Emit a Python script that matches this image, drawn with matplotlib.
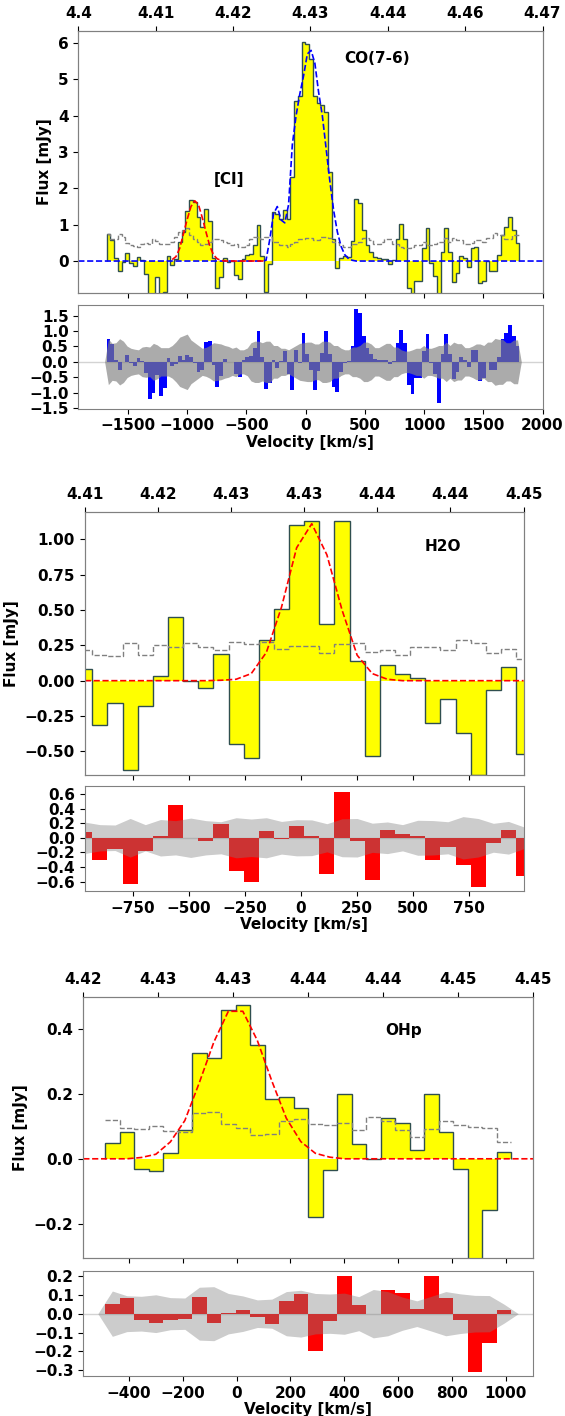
import numpy as np
import matplotlib.pyplot as plt

plt.rcParams['font.family'] = 'DejaVu Sans'
plt.rcParams['font.weight'] = 'bold'
plt.rcParams['axes.labelweight'] = 'bold'
plt.rcParams['font.size'] = 11

# ---------------- CO(7-6) + [CI] ----------------
co_v0, co_dv = -1666.0, 31.7
co_flux = [0.74, 0.59, 0.07, -0.27, -0.02, 0.23, -0.05, -0.13, 0.11, 0.03,
           -0.35, -1.2, -1.0, -0.43, -1.1, -0.85, 0.14, -0.1, 0.05, 0.53,
           0.8, 1.37, 1.67, 1.63, 1.22, 0.95, 1.43, 1.1, 0.07, -0.75,
           -0.45, 0.09, -0.02, 0.0, -0.38, -0.5, 0.05, 0.16, 0.2, 0.45,
           1.0, 0.15, -0.86, -0.09, 1.35, 1.3, 1.15, 1.4, 1.15, 2.3,
           4.4, 4.55, 6.02, 5.97, 5.55, 4.55, 4.35, 4.3, 4.1, 2.45,
           0.6, -0.18, 0.07, 0.14, 0.1, 0.55, 1.72, 1.6, 0.85, 0.45,
           0.25, 0.1, 0.07, 0.06, 0.05, -0.08, 0.03, 0.6, 1.03, 0.6,
           -0.75, -1.05, -0.54, -0.54, 0.35, 0.9, -0.05, -0.4, -1.35, 0.24,
           0.9, 0.24, -0.57, -0.34, 0.15, 0.07, -0.16, 0.37, 0.38, -0.61,
           -0.54, 0.0, -0.27, -0.27, 0.16, 0.73, 0.94, 1.2, 0.85, 0.51]
co_noise = [0.74, 0.6, 0.62, 0.75, 0.67, 0.51, 0.44, 0.41, 0.39, 0.48,
            0.5, 0.48, 0.6, 0.55, 0.46, 0.46, 0.46, 0.53, 0.65, 0.8,
            0.85, 0.9, 0.71, 0.62, 0.53, 0.44, 0.47, 0.53, 0.62, 0.6,
            0.58, 0.53, 0.5, 0.44, 0.48, 0.39, 0.39, 0.45, 0.62, 0.67,
            0.67, 0.62, 0.67, 0.67, 0.53, 0.53, 0.44, 0.44, 0.39, 0.46,
            0.53, 0.6, 0.62, 0.64, 0.64, 0.58, 0.58, 0.67, 0.67, 0.64,
            0.53, 0.53, 0.44, 0.39, 0.39, 0.48, 0.48, 0.53, 0.64, 0.64,
            0.58, 0.46, 0.46, 0.53, 0.6, 0.6, 0.48, 0.48, 0.39, 0.35,
            0.35, 0.39, 0.44, 0.44, 0.53, 0.44, 0.44, 0.48, 0.53, 0.53,
            0.64, 0.53, 0.64, 0.59, 0.59, 0.46, 0.46, 0.51, 0.58, 0.58,
            0.53, 0.64, 0.64, 0.76, 0.73, 0.73, 0.62, 0.62, 0.71, 0.71]
co_fit_start = 42
co_fit = [0.02, 0.6, 1.3, 1.5, 1.13, 1.05, 1.55, 3.2, 4.0, 4.6, 5.1, 5.7,
          5.8, 5.45, 4.65, 4.0, 3.1, 2.2, 1.4, 0.8, 0.4, 0.17, 0.06, 0.02]
ci_fit_start = 17
ci_fit = [0.04, 0.12, 0.35, 0.75, 1.15, 1.5, 1.66, 1.55, 1.2, 0.8, 0.42,
          0.17, 0.06, 0.02, 0, 0, 0, 0, 0, 0, 0, 0, 0, 0, 0, 0]
co_xlim = (-1920, 2000)
co_top = ['4.4', '4.41', '4.42', '4.43', '4.44', '4.46', '4.47']

# ---------------- H2O ----------------
h2o_v0, h2o_dv = -965.0, 67.6
h2o_flux = [0.08, -0.31, -0.16, -0.63, -0.18, 0.03, 0.45, -0.005, -0.05, 0.19,
            -0.45, -0.55, 0.29, 0.51, 1.10, 1.13, 0.40, 1.13, 0.14, -0.53,
            0.11, 0.05, 0.02, -0.30, -0.13, -0.37, -0.67, -0.065, 0.10, -0.52]
h2o_noise = [0.215, 0.18, 0.175, 0.265, 0.18, 0.25, 0.235, 0.27, 0.235, 0.22,
             0.275, 0.257, 0.275, 0.224, 0.248, 0.245, 0.193, 0.26, 0.264, 0.2,
             0.217, 0.18, 0.24, 0.236, 0.22, 0.29, 0.264, 0.198, 0.224, 0.15]
h2o_fit_start = 9
h2o_fit = [0.003, 0.01, 0.05, 0.2, 0.52, 0.94, 1.11, 0.89, 0.5, 0.18, 0.05, 0.01]
h2o_top = ['4.41', '4.42', '4.43', '4.43', '4.44', '4.44', '4.45']

# ---------------- OH+ ----------------
ohp_v0, ohp_dv = -462.0, 53.9
ohp_flux = [0.05, 0.082, -0.032, -0.037, 0.017, 0.088, 0.325, 0.31, 0.46, 0.475,
            0.35, 0.185, 0.19, 0.158, -0.178, -0.035, 0.2, 0.045, 0.0, 0.125,
            0.11, 0.027, 0.2, 0.083, -0.032, -0.31, -0.157, 0.02]
ohp_noise = [0.12, 0.095, 0.092, 0.10, 0.085, 0.083, 0.14, 0.143, 0.107, 0.094,
             0.073, 0.077, 0.117, 0.124, 0.107, 0.104, 0.109, 0.09, 0.128, 0.117,
             0.088, 0.068, 0.092, 0.117, 0.105, 0.097, 0.096, 0.051]
ohp_fit_start = 2
ohp_fit = [0.004, 0.014, 0.052, 0.118, 0.235, 0.36, 0.455, 0.455, 0.365, 0.24,
           0.125, 0.053, 0.017, 0.005]
ohp_xlim = (-570, 1103)
ohp_top = ['4.42', '4.43', '4.43', '4.44', '4.44', '4.45', '4.45']


def grid(v0, dv, n):
    return v0 + dv * np.arange(n)


def place(fit, start, n):
    m = np.zeros(n)
    m[start:start + len(fit)] = fit
    return m


W, H = 565, 1416


def rect(l, t, r, b):
    return [l / W, 1 - b / H, (r - l) / W, (b - t) / H]


def style(ax):
    for s in ax.spines.values():
        s.set_color('grey')


def panel(fig, r_main, r_res, v, dv, flux, noise, xlim, top_labels, xticks,
          ylim, rylim, yticks, ryticks):
    flux = np.asarray(flux)
    noise = np.asarray(noise)
    edges = np.append(v - dv / 2, v[-1] + dv / 2)

    ax = fig.add_axes(rect(*r_main))
    ax.stairs(flux, edges, baseline=0, fill=True, color='yellow', lw=0)
    ax.stairs(flux, edges, baseline=0, color='darkslategray', lw=1)
    ax.stairs(noise, edges, baseline=None, color='grey', ls='--', lw=1)
    ax.set_xlim(xlim)
    ax.set_ylim(ylim)
    ax.set_yticks(yticks)
    ax.set_xticks(xticks)
    ax.tick_params(labelbottom=False)
    ax.set_ylabel('Flux [mJy]')
    style(ax)

    top = ax.twiny()
    top.set_xlim(xlim)
    top.set_xticks(np.linspace(xlim[0], xlim[1], len(top_labels)))
    top.set_xticklabels(top_labels)
    style(top)

    rax = fig.add_axes(rect(*r_res))
    rax.set_xlim(xlim)
    rax.set_ylim(rylim)
    rax.set_xticks(xticks)
    rax.set_yticks(ryticks)
    rax.set_xlabel('Velocity [km/s]', labelpad=1)
    style(rax)
    return ax, rax


def residual(rax, v, dv, res, noise, color, alpha):
    rax.axhline(0, color='lightgrey', lw=1, zorder=0)
    rax.bar(v, res, width=dv, color=color, lw=0)
    vb = np.r_[v[0] - dv, v, v[-1] + dv]
    nb = np.r_[0, noise, 0]
    rax.fill_between(vb, -nb, nb, color='grey', alpha=alpha, lw=0)


fig = plt.figure(figsize=(5.65, 14.16), dpi=100)

# CO panel
n = len(co_flux)
v = grid(co_v0, co_dv, n)
co_model = place(co_fit, co_fit_start, n)
ci_model = place(ci_fit, ci_fit_start, n)
ax, rax = panel(fig, (78.3, 30.7, 542.5, 293), (78.3, 304.5, 542.5, 408.7),
                v, co_dv, co_flux, co_noise, co_xlim, co_top,
                np.arange(-1500, 2001, 500), (-0.88, 6.34), (-1.52, 1.86),
                np.arange(0, 7, 1), np.arange(-1.5, 1.6, 0.5))
ax.plot(np.r_[co_xlim[0], v, co_xlim[1]], np.r_[0, co_model, 0],
        color='blue', ls='--', lw=1.2)
sl = slice(ci_fit_start, ci_fit_start + len(ci_fit))
ax.plot(v[sl], ci_model[sl], color='red', ls='--', lw=1.2)
ax.text(599, 5.57, 'CO(7-6)', ha='center', va='center', fontsize=11)
ax.text(-647, 2.24, '[CI]', ha='center', va='center', fontsize=11)
residual(rax, v, co_dv, np.asarray(co_flux) - co_model - ci_model,
         np.asarray(co_noise), 'blue', 0.66)

# H2O panel
n = len(h2o_flux)
v = grid(h2o_v0, h2o_dv, n)
h2o_model = place(h2o_fit, h2o_fit_start, n)
h2o_xlim = (v[0], v[-1])
ax, rax = panel(fig, (84.8, 511.7, 523.6, 775), (84.8, 786, 523.6, 891),
                v, h2o_dv, h2o_flux, h2o_noise, h2o_xlim, h2o_top,
                np.arange(-750, 751, 250), (-0.667, 1.195), (-0.73, 0.71),
                np.arange(-0.5, 1.01, 0.25), np.arange(-0.6, 0.61, 0.2))
ax.plot(v, h2o_model, color='red', ls='--', lw=1.2)
ax.text(634, 0.948, 'H2O', ha='center', va='center', fontsize=11)
residual(rax, v, h2o_dv, np.asarray(h2o_flux) - h2o_model,
         np.asarray(h2o_noise), 'red', 0.4)

# OH+ panel
n = len(ohp_flux)
v = grid(ohp_v0, ohp_dv, n)
ohp_model = place(ohp_fit, ohp_fit_start, n)
ax, rax = panel(fig, (83.3, 996.7, 533.3, 1258), (83.3, 1271, 533.3, 1376),
                v, ohp_dv, ohp_flux, ohp_noise, ohp_xlim, ohp_top,
                np.arange(-400, 1001, 200), (-0.306, 0.50), (-0.33, 0.226),
                [-0.2, 0.0, 0.2, 0.4], np.arange(-0.3, 0.21, 0.1))
ax.plot(np.r_[ohp_xlim[0], v, ohp_xlim[1]], np.r_[0, ohp_model, 0],
        color='red', ls='--', lw=1.2)
ax.text(622, 0.397, 'OHp', ha='center', va='center', fontsize=11)
residual(rax, v, ohp_dv, np.asarray(ohp_flux) - ohp_model,
         np.asarray(ohp_noise), 'red', 0.4)

fig.savefig('out.png', dpi=100)
